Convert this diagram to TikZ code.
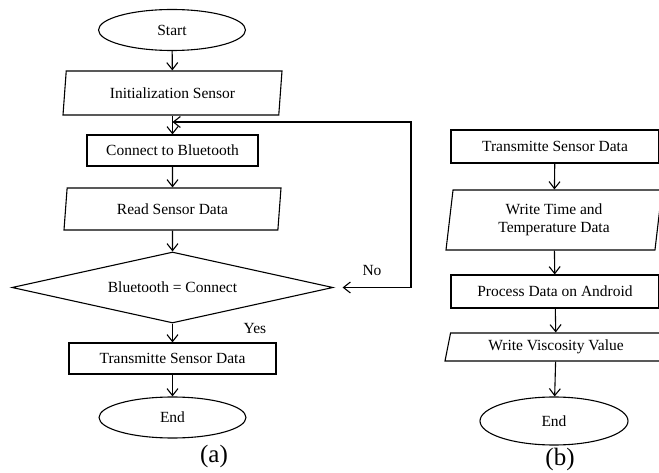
\documentclass[tikz,border=0pt]{standalone}
\usepackage{fontspec}
\setmainfont{Liberation Serif}
\usetikzlibrary{shapes.geometric,arrows.meta}

\begin{document}
\begin{tikzpicture}[x=1pt,y=-1pt,line width=1.1pt,
  >={Straight Barb[length=7pt,width=11pt]},
  every node/.style={font=\fontsize{15.5}{18.5}\selectfont},
  term/.style={draw,ellipse,inner sep=0pt,minimum width=147pt,minimum height=41pt},
  proc/.style={draw,rectangle,inner sep=0pt,minimum height=32pt},
  io/.style={draw,trapezium,trapezium stretches body,inner sep=0pt},
  decision/.style={draw,diamond,inner sep=0pt,aspect=4.5,
    minimum width=321pt,minimum height=71pt},
  caption/.style={font=\fontsize{25}{28}\selectfont}]
  \useasboundingbox (0,0) rectangle (659,473);

  % (a)
  \node[term] (startA) at (172,30) {Start};
  \node[io,trapezium left angle=73.5,trapezium right angle=106.5,
    minimum width=219pt,minimum height=44pt] (init) at (172.5,93) {Initialization Sensor};
  \coordinate (join) at (172.5,122);
  \node[proc,minimum width=171pt,minimum height=31pt] (conn) at (172.5,150.5) {Connect to Bluetooth};
  \node[io,trapezium left angle=74,trapezium right angle=106,
    minimum width=217pt,minimum height=42pt] (read) at (172.5,209) {Read Sensor Data};
  \node[decision] (check) at (172.5,287.5) {Bluetooth = Connect};
  \node[proc,minimum width=207pt,minimum height=31pt] (sendA) at (172.5,358.5) {Transmitte Sensor Data};
  \node[term] (endA) at (172.5,417.5) {End};
  \node[caption] (capA) at (214,456) {(a)};
  \node (yes) at (255,329) {Yes};
  \node (no) at (372,271) {No};
  \coordinate (loop) at (411,122);

  \draw[->] (startA) -- (init);
  \draw (init) -- (join);
  \draw[->] (join) -- (conn);
  \draw[->] (conn) -- (read);
  \draw[->] (read) -- (check);
  \draw[->] (check) -- (sendA);
  \draw[->] (sendA) -- (endA);
  \draw[<->] ([xshift=9pt]check.east) -| (loop) -- (join);

  % (b)
  \node[proc,minimum width=208pt,minimum height=33pt] (sendB) at (555,146.5) {Transmitte Sensor Data};
  \node[io,trapezium left angle=77.8,trapezium right angle=102.2,align=center,
    minimum width=216pt,minimum height=60pt] (write) at (554,220) {Write Time and\\Temperature Data};
  \node[proc,minimum width=208pt,minimum height=33pt] (android) at (555,291.5) {Process Data on Android};
  \node[io,trapezium left angle=68.5,trapezium right angle=111.5,
    minimum width=222pt,minimum height=28pt] (visc) at (556,347) {Write Viscosity Value};
  \node[term,minimum width=148pt,minimum height=48pt] (endB) at (554,421) {End};
  \node[caption] (capB) at (560,459) {(b)};

  \draw[->] (sendB) -- (write);
  \draw[->] (write) -- (android);
  \draw[->] (android) -- (visc);
  \draw[->] (visc) -- (endB);
\end{tikzpicture}
\end{document}
